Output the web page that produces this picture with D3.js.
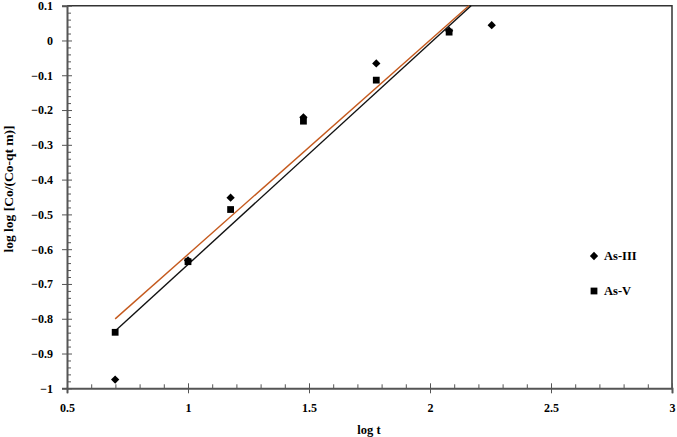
<!DOCTYPE html>
<html>
<head>
<meta charset="utf-8">
<script src="https://cdn.jsdelivr.net/npm/d3@7"></script>
<style>
  body { margin: 0; background: #fff; }
  svg { display: block; }
  text { font-family: "Liberation Serif", "Times New Roman", serif; font-weight: bold; fill: #000; }
</style>
</head>
<body>
<svg id="chart" width="677" height="437"></svg>
<script>
// data
let logT = [0.699, 1.0, 1.176, 1.477, 1.778, 2.079, 2.255];
let asIII = [-0.975, -0.632, -0.452, -0.221, -0.066, 0.028, 0.044];
let asV = [-0.839, -0.636, -0.486, -0.232, -0.114, 0.024];
// fitted lines: [slope, intercept], drawn from log t = 0.699
let fitIII = [0.616, -1.231];
let fitV = [0.636, -1.280];
let xTicks = [0.5, 1, 1.5, 2, 2.5, 3];
let yTicks = [0.1, 0, -0.1, -0.2, -0.3, -0.4, -0.5, -0.6, -0.7, -0.8, -0.9, -1];

let svg = d3.select("#chart");
let plotLeft = 67, plotRight = 672, plotTop = 5.7, plotBottom = 388.3;

let x = d3.scaleLinear().domain([0.5, 3]).range([plotLeft, plotRight]);
let y = d3.scaleLinear().domain([-1, 0.1]).range([plotBottom, plotTop]);

let axisColor = "#555";
let redLine = "#c55a1e";

// frame (top + right)
svg.append("path")
  .attr("d", "M" + plotLeft + "," + plotTop + "H" + plotRight + "V" + plotBottom)
  .style("fill", "none")
  .style("stroke", "#333")
  .style("stroke-width", 1.5);

// minor ticks
let xMinor = d3.range(0.6, 3, 0.1).filter(v => Math.abs(v*2 - Math.round(v*2)) > 1e-6);
svg.append("g")
  .attr("transform", "translate(0," + plotBottom + ")")
  .call(d3.axisBottom(x).tickValues(xMinor).tickSize(-4).tickFormat(""))
  .call(g => g.select(".domain").remove())
  .selectAll("line").style("stroke", axisColor);

let yMinor = d3.range(-0.98, 0.1, 0.02).filter(v => Math.abs(v*10 - Math.round(v*10)) > 1e-6);
svg.append("g")
  .attr("transform", "translate(" + plotLeft + ",0)")
  .call(d3.axisLeft(y).tickValues(yMinor).tickSize(-4).tickFormat(""))
  .call(g => g.select(".domain").remove())
  .selectAll("line").style("stroke", axisColor);

// major axes
let xAxis = svg.append("g")
  .attr("transform", "translate(0," + plotBottom + ")")
  .call(d3.axisBottom(x).tickValues(xTicks).tickSize(5).tickPadding(10).tickFormat(d3.format("")));
xAxis.select(".domain").style("stroke", axisColor).style("stroke-width", 2);
xAxis.selectAll("line").attr("y1", -5).style("stroke", axisColor);
xAxis.selectAll("text").style("font-size", "12px").style("font-family", "Liberation Serif");

let yAxis = svg.append("g")
  .attr("transform", "translate(" + plotLeft + ",0)")
  .call(d3.axisLeft(y).tickValues(yTicks).tickSize(5).tickPadding(9).tickFormat(d3.format("")));
yAxis.select(".domain").style("stroke", axisColor).style("stroke-width", 2);
yAxis.selectAll("line").attr("x1", 5).style("stroke", axisColor);
yAxis.selectAll("text").style("font-size", "12px").style("font-family", "Liberation Serif");

// trend lines, stopped at the top of the plot
function fitLine(fit, color) {
  let x0 = logT[0];
  let x1 = (y.domain()[1] - fit[1]) / fit[0];
  svg.append("line")
    .attr("x1", x(x0)).attr("y1", y(fit[0]*x0 + fit[1]))
    .attr("x2", x(x1)).attr("y2", y(fit[0]*x1 + fit[1]))
    .style("stroke", color)
    .style("stroke-width", 1.4);
}
fitLine(fitIII, redLine);
fitLine(fitV, "#111");

// markers
let diamond = d3.symbol().type(d3.symbolDiamond2).size(44);
let square = d3.symbol().type(d3.symbolSquare).size(46);

svg.selectAll(".sq")
  .data(asV)
  .enter()
  .append("path")
  .attr("d", square)
  .attr("transform", (d, i) => "translate(" + x(logT[i]) + "," + y(d) + ")")
  .style("fill", "#000");

svg.selectAll(".dm")
  .data(asIII)
  .enter()
  .append("path")
  .attr("d", diamond)
  .attr("transform", (d, i) => "translate(" + x(logT[i]) + "," + y(d) + ")")
  .style("fill", "#000");

// legend
svg.append("path").attr("d", diamond).attr("transform", "translate(594,256)").style("fill", "#000");
svg.append("text").attr("x", 604).attr("y", 260).text("As-III").style("font-size", "12.5px");
svg.append("path").attr("d", square).attr("transform", "translate(594,291)").style("fill", "#000");
svg.append("text").attr("x", 604).attr("y", 295).text("As-V").style("font-size", "12.5px");

// axis titles
svg.append("text")
  .attr("x", 369)
  .attr("y", 434)
  .text("log t")
  .style("text-anchor", "middle")
  .style("font-size", "12.5px");

svg.append("text")
  .attr("transform", "translate(13,189) rotate(-90)")
  .text("log log [Co/(Co-qt m)]")
  .style("text-anchor", "middle")
  .style("font-size", "13.5px");
</script>
</body>
</html>
